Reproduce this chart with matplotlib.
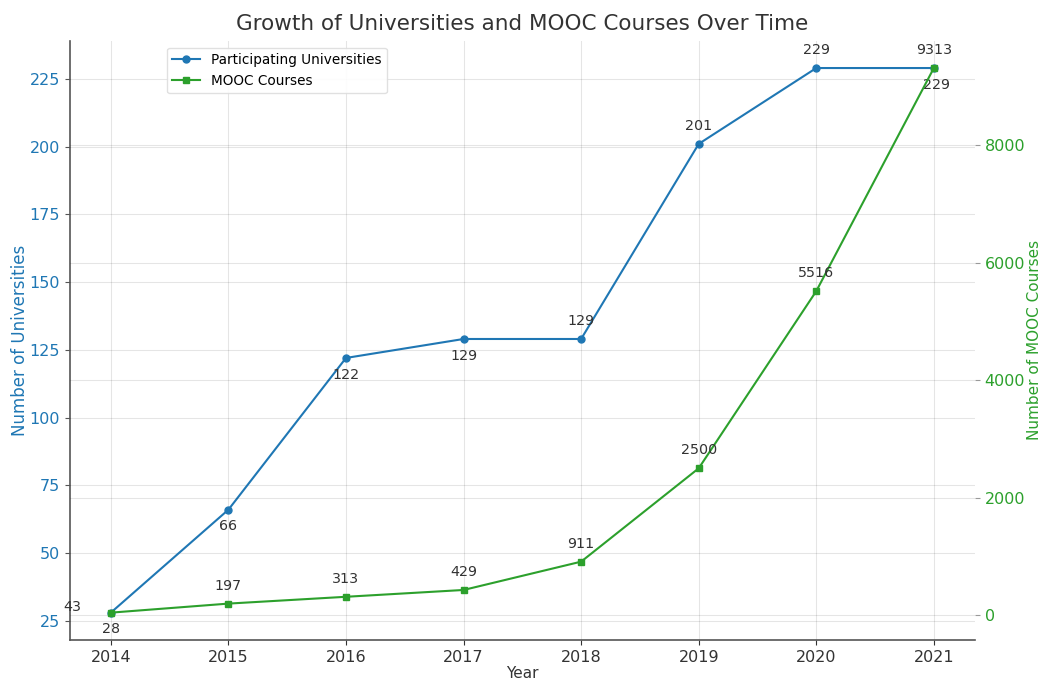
import matplotlib
matplotlib.use("Agg")
import matplotlib.pyplot as plt

years = [2014, 2015, 2016, 2017, 2018, 2019, 2020, 2021]
universities = [28, 66, 122, 129, 129, 201, 229, 229]
mooc_courses = [43, 197, 313, 429, 911, 2500, 5516, 9313]

blue = '#1f77b4'
green = '#2ca02c'

fig = plt.figure(figsize=(10.4, 6.8), dpi=100)
ax1 = fig.add_axes([0.067, 0.059, 0.8705, 0.881])
ax2 = ax1.twinx()

l1, = ax1.plot(years, universities, color=blue, marker='o', markersize=5,
               linewidth=1.5, label='Participating Universities')
l2, = ax2.plot(years, mooc_courses, color=green, marker='s', markersize=5,
               linewidth=1.5, label='MOOC Courses')

# annotation offsets (points)
uni_offsets = [(0, -12), (0, -12), (0, -12), (0, -12), (0, 13), (0, 13), (0, 13), (2, -12)]
mooc_offsets = [(-28, 4), (0, 13), (0, 13), (0, 13), (0, 13), (0, 13), (0, 13), (0, 13)]
for x, y, off in zip(years, universities, uni_offsets):
    ax1.annotate(str(y), (x, y), xytext=off, textcoords='offset points',
                 ha='center', va='center', fontsize=10.3, color='#333333')
for x, y, off in zip(years, mooc_courses, mooc_offsets):
    ax2.annotate(str(y), (x, y), xytext=off, textcoords='offset points',
                 ha='center', va='center', fontsize=10.3, color='#333333')

ax1.set_xlabel('Year', fontsize=11, color='#333333', labelpad=1)
ax1.set_ylabel('Number of Universities', fontsize=12, color=blue, labelpad=0)
ax2.set_ylabel('Number of MOOC Courses', fontsize=11, color=green, labelpad=1)
ax1.set_title('Growth of Universities and MOOC Courses Over Time', fontsize=15.5,
              color='#333333', pad=8)

ax1.set_xticks(years)
ax1.tick_params(axis='x', labelsize=11.5, colors='#333333')
ax1.tick_params(axis='y', labelsize=11.5, labelcolor=blue, color='#555555')
ax2.tick_params(axis='y', labelsize=11.5, labelcolor=green, color='#999999')
ax1.set_yticks([25, 50, 75, 100, 125, 150, 175, 200, 225])
ax2.set_yticks([0, 2000, 4000, 6000, 8000])

ax1.grid(True, color='black', alpha=0.1, linewidth=0.8)
ax1.set_axisbelow(True)
ax2.grid(True, axis='y', color='black', alpha=0.1, linewidth=0.8)
ax2.set_axisbelow(True)
ax2.xaxis.grid(False)
for ax in (ax1, ax2):
    ax.spines['top'].set_visible(False)
    ax.spines['right'].set_visible(False)
ax2.spines['left'].set_visible(False)
ax2.spines['bottom'].set_visible(False)
ax1.spines['left'].set_color('#555555')
ax1.spines['bottom'].set_color('#555555')
ax1.spines['left'].set_linewidth(1.2)
ax1.spines['bottom'].set_linewidth(1.2)

ax1.legend([l1, l2], [l1.get_label(), l2.get_label()], loc='upper left',
           bbox_to_anchor=(0.1, 1.0), fontsize=9.8, framealpha=0.9,
           edgecolor='#dddddd')

fig.savefig('out.png', dpi=100)
